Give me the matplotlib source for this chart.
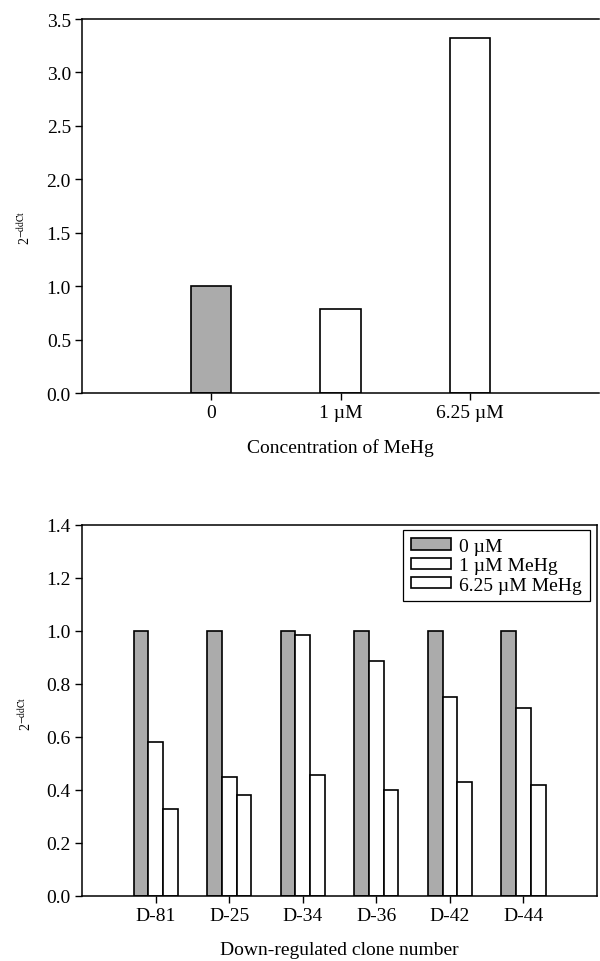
import numpy as np
import matplotlib
matplotlib.use('Agg')
import matplotlib.pyplot as plt

plt.rcParams['font.family'] = ['Liberation Serif', 'DejaVu Serif']
plt.rcParams['mathtext.fontset'] = 'stix'

# top panel data
conc_labels = ['0', '1 \u00b5M', '6.25 \u00b5M']
conc_values = [1.0, 0.79, 3.32]

# bottom panel data
clones = ['D-81', 'D-25', 'D-34', 'D-36', 'D-42', 'D-44']
ctrl_0uM = [1.0, 1.0, 1.0, 1.0, 1.0, 1.0]
mehg_1uM = [0.58, 0.45, 0.985, 0.885, 0.75, 0.71]
mehg_625uM = [0.327, 0.38, 0.455, 0.40, 0.43, 0.42]

gray = '#ababab'
ylab = r'2$^{\mathrm{-ddCt}}$'

fig = plt.figure(figsize=(6, 9.62), dpi=100)

# ---- top chart
ax1 = fig.add_axes([0.1367, 0.5904, 0.8617, 0.3888])
x1 = np.arange(len(conc_labels))
colors1 = [gray, 'white', 'white']
ax1.bar(x1, conc_values, width=0.31, color=colors1, edgecolor='black', linewidth=1.2)
ax1.set_xlim(-1, 3)
ax1.set_ylim(0, 3.5)
ax1.set_yticks(np.arange(0, 3.51, 0.5))
ax1.set_yticklabels([f'{v:.1f}' for v in np.arange(0, 3.51, 0.5)])
ax1.set_xticks(x1)
ax1.set_xticklabels(conc_labels)
ax1.spines['right'].set_visible(False)
ax1.set_xlabel('Concentration of MeHg', fontsize=14, labelpad=12)
ax1.set_ylabel(ylab, fontsize=10)
ax1.yaxis.set_label_coords(-0.094, 0.444)

# ---- bottom chart
ax2 = fig.add_axes([0.1367, 0.0676, 0.8583, 0.3857])
x2 = np.arange(len(clones))
w = 0.2
ax2.bar(x2 - w, ctrl_0uM, width=w, color=gray, edgecolor='black', linewidth=1.2, label='0 \u00b5M')
ax2.bar(x2, mehg_1uM, width=w, color='white', edgecolor='black', linewidth=1.2, label='1 \u00b5M MeHg')
ax2.bar(x2 + w, mehg_625uM, width=w, color='white', edgecolor='black', linewidth=1.2, label='6.25 \u00b5M MeHg')
ax2.set_xlim(-1, 6)
ax2.set_ylim(0, 1.4)
ax2.set_yticks(np.arange(0, 1.41, 0.2))
ax2.set_yticklabels([f'{v:.1f}' for v in np.arange(0, 1.41, 0.2)])
ax2.set_xticks(x2)
ax2.set_xticklabels(clones)
ax2.set_xlabel('Down-regulated clone number', fontsize=14, labelpad=12)
ax2.set_ylabel(ylab, fontsize=10)
ax2.yaxis.set_label_coords(-0.094, 0.493)
leg = ax2.legend(loc='upper right', bbox_to_anchor=(0.986, 0.986), fancybox=False,
                 edgecolor='black', framealpha=1, fontsize=14, borderaxespad=0,
                 handlelength=2.1, handleheight=0.5, handletextpad=0.4,
                 labelspacing=0.12, borderpad=0.4)
leg.get_frame().set_linewidth(0.9)

for ax in (ax1, ax2):
    ax.tick_params(axis='both', direction='out', length=5, width=1, labelsize=14, pad=3)
    for s in ax.spines.values():
        s.set_linewidth(1.1)

fig.savefig('out.png', dpi=100)
